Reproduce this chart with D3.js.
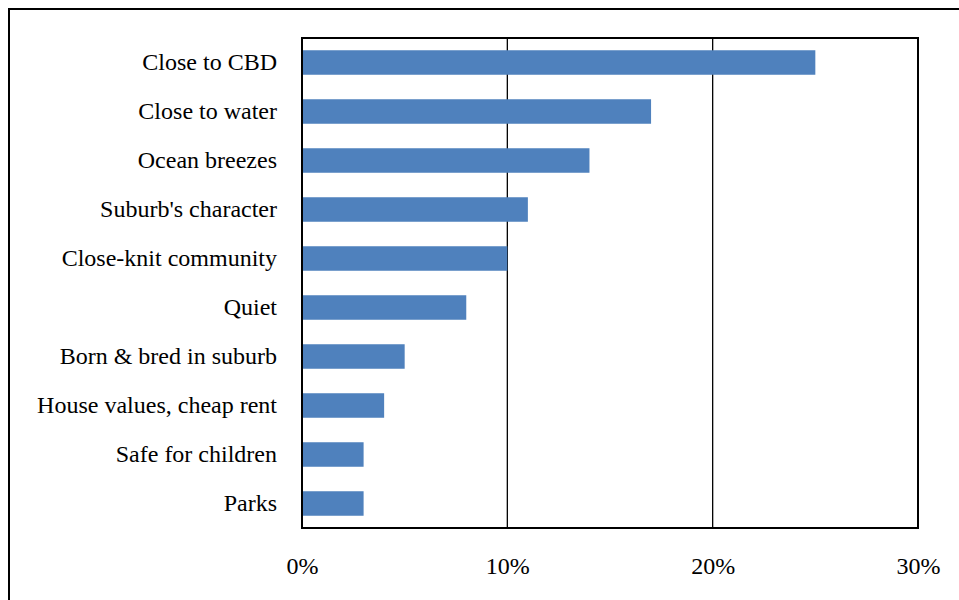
<!DOCTYPE html>
<html>
<head>
<meta charset="utf-8">
<script src="https://cdn.jsdelivr.net/npm/d3@7"></script>
<style>
  html, body { margin: 0; padding: 0; background: #fff; }
  svg { display: block; }
</style>
</head>
<body>
<svg id="chart" width="959" height="600"></svg>
<script>
// Reasons for living in the suburb (share of responses)
const categories = [
  "Close to CBD",
  "Close to water",
  "Ocean breezes",
  "Suburb's character",
  "Close-knit community",
  "Quiet",
  "Born & bred in suburb",
  "House values, cheap rent",
  "Safe for children",
  "Parks"
];
const shares = [0.25, 0.17, 0.14, 0.11, 0.10, 0.08, 0.05, 0.04, 0.03, 0.03];
const tickValues = [0, 0.10, 0.20, 0.30];

const FONT = "Liberation Serif, Times New Roman, Times, serif";
const svg = d3.select("#chart");
const W = 959, H = 600;
const plot = { left: 302, top: 38, right: 918, bottom: 528 };

// outer chart frame (runs off the right and bottom edges)
svg.append("rect")
  .attr("x", 9).attr("y", 9)
  .attr("width", W + 20).attr("height", H + 20)
  .attr("fill", "#fff").attr("stroke", "#000").attr("stroke-width", 2);

const x = d3.scaleLinear().domain([0, 0.30]).range([plot.left, plot.right]);
const y = d3.scaleBand().domain(categories).range([plot.top, plot.bottom]).paddingInner(0.5).paddingOuter(0.25);

// vertical gridlines
svg.append("g")
  .selectAll("line")
  .data(tickValues.slice(1, -1))
  .join("line")
  .attr("x1", d => x(d)).attr("x2", d => x(d))
  .attr("y1", plot.top).attr("y2", plot.bottom)
  .attr("stroke", "#000").attr("stroke-width", 1.3);

// bars
svg.append("g")
  .selectAll("rect")
  .data(categories)
  .join("rect")
  .attr("x", x(0))
  .attr("y", d => y(d))
  .attr("width", (d, i) => x(shares[i]) - x(0))
  .attr("height", y.bandwidth())
  .attr("fill", "#4f81bd");

// plot frame
svg.append("rect")
  .attr("x", plot.left).attr("y", plot.top)
  .attr("width", plot.right - plot.left).attr("height", plot.bottom - plot.top)
  .attr("fill", "none").attr("stroke", "#000").attr("stroke-width", 2);

// category axis
const yAxis = svg.append("g")
  .attr("transform", `translate(${plot.left},0)`)
  .call(d3.axisLeft(y).tickSize(0).tickPadding(25))
  .attr("font-family", FONT)
  .attr("font-size", 24);
yAxis.select(".domain").remove();
yAxis.selectAll("text").attr("fill", "#000").attr("font-family", FONT);

// value axis
const xAxis = svg.append("g")
  .attr("transform", `translate(0,${plot.bottom})`)
  .call(d3.axisBottom(x).tickValues(tickValues).tickFormat(d3.format(".0%")).tickSize(0).tickPadding(29))
  .attr("font-family", FONT)
  .attr("font-size", 24);
xAxis.select(".domain").remove();
xAxis.selectAll("text").attr("fill", "#000").attr("font-family", FONT);
</script>
</body>
</html>
